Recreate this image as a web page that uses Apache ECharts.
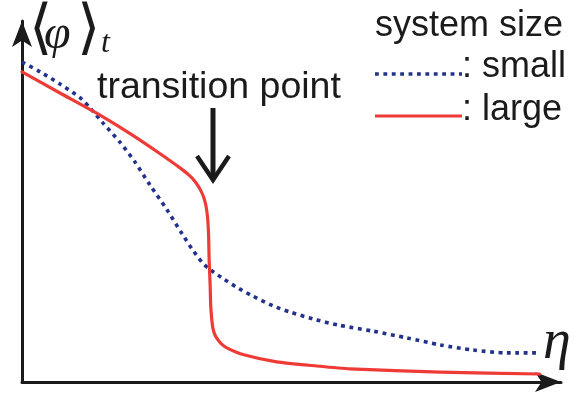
<!DOCTYPE html>
<html>
<head>
<meta charset="utf-8">
<script src="https://cdn.jsdelivr.net/npm/echarts@6/dist/echarts.min.js"></script>
<style>
  html, body { margin: 0; padding: 0; background: #ffffff; }
  #chart { width: 575px; height: 394px; }
</style>
</head>
<body>
<div id="chart"></div>
<script>
// Order parameter <phi>_t versus noise eta, for two system sizes.
const etaSmall = [0, 0.35, 0.73, 1.12, 1.31, 1.56, 1.88, 2.17, 2.46, 2.79, 3.08, 3.27, 3.46, 3.58, 3.85, 4.12, 4.40, 4.83, 5.15, 5.60, 6.08, 6.75, 7.40, 8.04, 8.67, 9.33, 9.96];
const phiSmall = [100, 96.9, 93.1, 88.8, 85.6, 80.9, 75.0, 68.8, 61.6, 53.8, 46.3, 41.6, 37.5, 35.6, 32.5, 29.7, 27.2, 23.8, 21.9, 19.7, 17.8, 15.9, 13.8, 11.6, 10.0, 9.1, 9.1];

const etaLarge = [0, 0.73, 1.50, 2.08, 2.65, 3.04, 3.23, 3.35, 3.44, 3.50, 3.54, 3.57, 3.59, 3.60, 3.62, 3.63, 3.65, 3.67, 3.70, 3.75, 3.83, 3.95, 4.25, 4.90, 5.67, 6.31, 8.04, 9.96];
const phiLarge = [96.9, 90.3, 83.4, 77.6, 71.4, 66.9, 64.4, 62.2, 59.8, 57.5, 55.0, 51.5, 45.9, 38.1, 30.3, 24.1, 19.8, 17.0, 15.2, 13.6, 12.0, 10.6, 8.6, 6.3, 5.0, 4.1, 3.1, 2.5];

const legendTitle = 'system size';
const seriesNames = [': small', ': large'];
const annotationText = 'transition point';
const transitionEta = 3.67;
const transitionPhi = 67;

const INK = '#1b1b1b';
const BLUE = '#22318c';
const RED = '#ef3b36';

const zip = (xs, ys) => xs.map((x, i) => [x, ys[i]]);

const chart = echarts.init(document.getElementById('chart'), null, { renderer: 'canvas' });

const option = {
  backgroundColor: '#ffffff',
  animation: false,
  grid: { left: 22, right: 14, top: 21, bottom: 12, containLabel: false },
  xAxis: {
    type: 'value', min: 0, max: 10.37,
    axisLine: { show: true, symbol: ['none', 'arrow'], symbolSize: [15, 26], lineStyle: { color: INK, width: 3 } },
    axisTick: { show: false }, axisLabel: { show: false }, splitLine: { show: false }
  },
  yAxis: {
    type: 'value', min: 0, max: 112.8,
    axisLine: { show: true, symbol: ['none', 'arrow'], symbolSize: [15, 26], lineStyle: { color: INK, width: 3 } },
    axisTick: { show: false }, axisLabel: { show: false }, splitLine: { show: false }
  },
  series: [
    {
      name: 'small', type: 'line', showSymbol: false, smooth: 0.25,
      data: zip(etaSmall, phiSmall),
      lineStyle: { color: BLUE, width: 3.6, type: [3.8, 4.6], cap: 'butt' },
      z: 3
    },
    {
      name: 'large', type: 'line', showSymbol: false, smooth: 0.2,
      data: zip(etaLarge, phiLarge),
      lineStyle: { color: RED, width: 3.2, cap: 'round', join: 'round' },
      z: 4
    }
  ]
};
chart.setOption(option);

// Axis titles, legend and the annotation arrow
const tip = chart.convertToPixel({ gridIndex: 0 }, [transitionEta, transitionPhi]);
const ax = Math.round(tip[0]);
const font = '"Liberation Sans", Arial, Helvetica, sans-serif';
const serif = '"Liberation Serif", "DejaVu Serif", serif';

chart.setOption({
  graphic: [
    // y-axis title <phi>_t
    { type: 'text', left: 29, top: 1, style: { text: '⟨', font: '400 60px "DejaVu Serif", serif', fill: INK } },
    { type: 'text', left: 44, top: 11, style: { text: 'φ', font: 'italic 400 48px ' + serif, fill: INK } },
    { type: 'text', left: 77, top: 1, style: { text: '⟩', font: '400 60px "DejaVu Serif", serif', fill: INK } },
    { type: 'text', left: 101, top: 28, style: { text: 't', font: 'italic 400 32px ' + serif, fill: INK } },
    // x-axis title eta
    { type: 'text', left: 543, top: 315, style: { text: 'η', font: 'italic 400 56px ' + serif, fill: INK } },
    // legend
    { type: 'text', left: 375, top: 8, style: { text: legendTitle, font: '400 36px ' + font, fill: INK } },
    { type: 'line', shape: { x1: 375, y1: 74, x2: 462, y2: 74 }, style: { stroke: BLUE, lineWidth: 3.6, lineDash: [3.8, 4.6] } },
    { type: 'text', left: 462, top: 49, style: { text: seriesNames[0], font: '400 36px ' + font, fill: INK } },
    { type: 'line', shape: { x1: 375, y1: 116, x2: 462, y2: 116 }, style: { stroke: RED, lineWidth: 3.2 } },
    { type: 'text', left: 462, top: 92, style: { text: seriesNames[1], font: '400 36px ' + font, fill: INK } },
    // annotation
    { type: 'text', left: 97, top: 69, style: { text: annotationText, font: '400 37.5px ' + font, fill: INK } },
    { type: 'polyline', shape: { points: [[ax, 108], [ax, 178]] }, style: { stroke: INK, lineWidth: 5, fill: null } },
    { type: 'polyline', shape: { points: [[ax - 16, 156], [ax, 180], [ax + 16, 156]] }, style: { stroke: INK, lineWidth: 4.5, fill: null, lineJoin: 'miter' } }
  ]
});
</script>
</body>
</html>
